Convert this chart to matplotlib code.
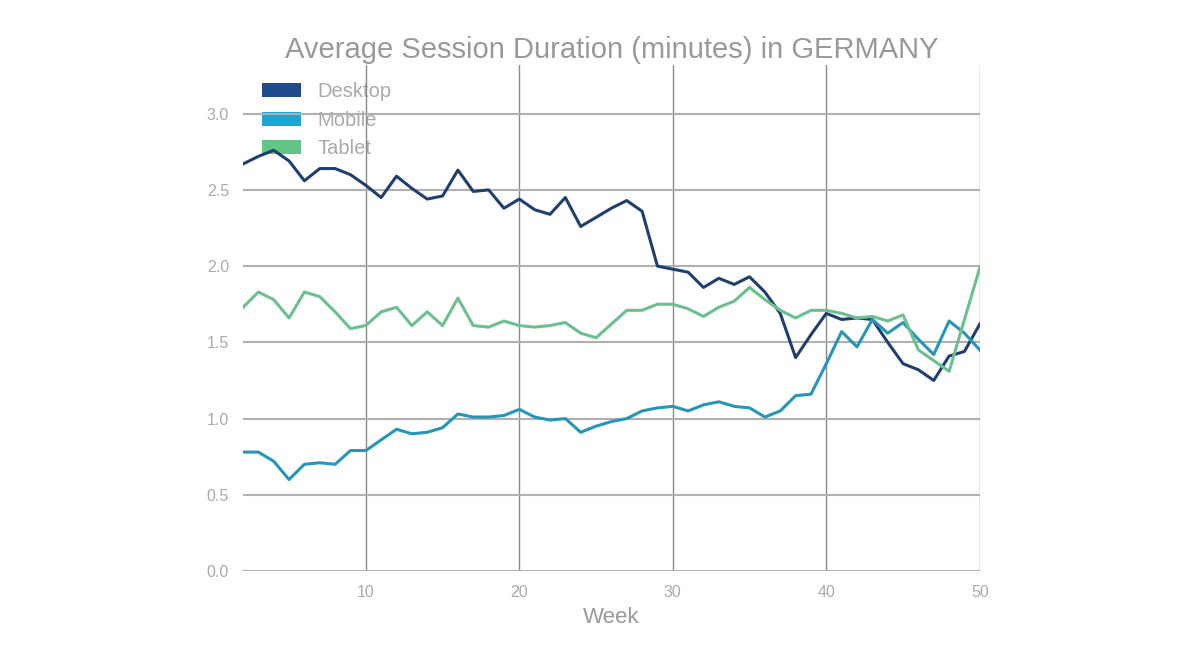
import numpy as np
import matplotlib
matplotlib.use('Agg')
import matplotlib.pyplot as plt
from matplotlib.patches import Patch

plt.rcParams['font.family'] = ['Liberation Sans', 'DejaVu Sans']

weeks = list(range(2, 51))

desktop = [2.67, 2.72, 2.76, 2.69, 2.56, 2.64, 2.64, 2.60, 2.53, 2.45,
           2.59, 2.51, 2.44, 2.46, 2.63, 2.49, 2.50, 2.38, 2.44, 2.37,
           2.34, 2.45, 2.26, 2.32, 2.38, 2.43, 2.36, 2.00, 1.98, 1.96,
           1.86, 1.92, 1.88, 1.93, 1.83, 1.69, 1.40, 1.55, 1.69, 1.65,
           1.66, 1.65, 1.50, 1.36, 1.32, 1.25, 1.41, 1.44, 1.62]

mobile = [0.78, 0.78, 0.72, 0.60, 0.70, 0.71, 0.70, 0.79, 0.79, 0.86,
          0.93, 0.90, 0.91, 0.94, 1.03, 1.01, 1.01, 1.02, 1.06, 1.01,
          0.99, 1.00, 0.91, 0.95, 0.98, 1.00, 1.05, 1.07, 1.08, 1.05,
          1.09, 1.11, 1.08, 1.07, 1.01, 1.05, 1.15, 1.16, 1.36, 1.57,
          1.47, 1.65, 1.56, 1.63, 1.52, 1.42, 1.64, 1.56, 1.45]

tablet = [1.73, 1.83, 1.78, 1.66, 1.83, 1.80, 1.70, 1.59, 1.61, 1.70,
          1.73, 1.61, 1.70, 1.61, 1.79, 1.61, 1.60, 1.64, 1.61, 1.60,
          1.61, 1.63, 1.56, 1.53, 1.62, 1.71, 1.71, 1.75, 1.75, 1.72,
          1.67, 1.73, 1.77, 1.86, 1.78, 1.71, 1.66, 1.71, 1.71, 1.69,
          1.66, 1.67, 1.64, 1.68, 1.45, 1.38, 1.31, 1.65, 1.99]

names = ['Desktop', 'Mobile', 'Tablet']
line_colors = ['#1f3f6e', '#2596b8', '#6cc08e']
patch_colors = ['#1d4a8a', '#1aa6d2', '#62c485']

fig = plt.figure(figsize=(12, 6.53), dpi=100)
ax = fig.add_axes([0.2025, 0.1256, 0.614, 0.775])

# one line per device type
for vals, c in zip([desktop, mobile, tablet], line_colors):
    ax.plot(weeks, vals, color=c, lw=2.2, zorder=3)

ax.set_xlim(2, 50)
ax.set_ylim(0, 3.32)
ax.set_xticks([10, 20, 30, 40, 50])
ax.set_yticks([0.0, 0.5, 1.0, 1.5, 2.0, 2.5, 3.0])
ax.set_yticklabels(['0.0', '0.5', '1.0', '1.5', '2.0', '2.5', '3.0'])

ax.grid(axis='x', color='#8a8a8a', lw=1.0)
ax.grid(axis='y', color='#b0b0b0', lw=1.5)
ax.set_axisbelow(True)
for s in ax.spines.values():
    s.set_visible(False)
ax.tick_params(length=0, labelsize=11.5, colors='#aaaaaa', pad=10)

ax.set_xlabel('Week', fontsize=16, color='#999999', labelpad=5)
ax.set_title('Average Session Duration (minutes) in GERMANY', fontsize=21,
             color='#999999', pad=5)

handles = [Patch(facecolor=c, edgecolor='none') for c in patch_colors]
leg = ax.legend(handles, names, loc='upper left', frameon=False, fontsize=14.5,
                labelcolor='#aaaaaa', handlelength=1.95, handleheight=0.7,
                handletextpad=0.8, labelspacing=0.48, borderpad=0,
                borderaxespad=0, bbox_to_anchor=(0.026, 0.966))
leg.set_zorder(0.3)

fig.savefig('out.png', dpi=100)
